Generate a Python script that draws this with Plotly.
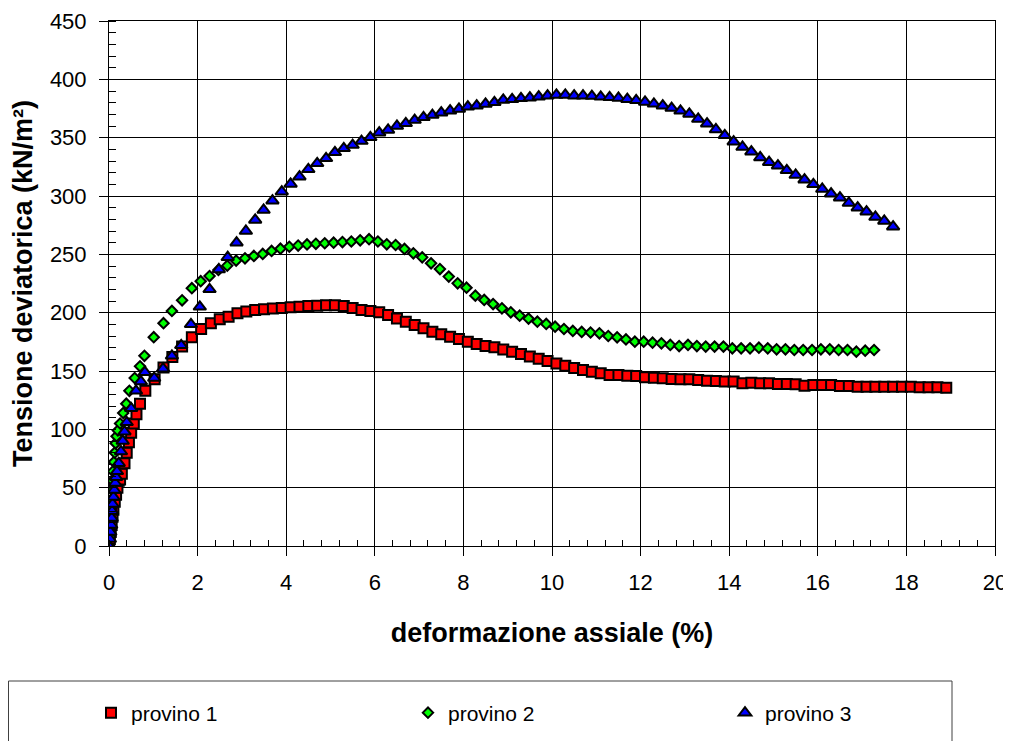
import plotly.graph_objects as go

# ---- data ----
p1_x = [0, 0.02, 0.04, 0.06, 0.08, 0.10, 0.13, 0.16, 0.19, 0.22, 0.25, 0.29, 0.35, 0.40, 0.45, 0.50,
        0.56, 0.62, 0.70, 0.82, 1.03, 1.23, 1.43, 1.65, 1.87, 2.08, 2.30, 2.50, 2.70, 2.90, 3.10, 3.30,
        3.50, 3.70,
        3.9, 4.1, 4.3, 4.5, 4.7, 4.9, 5.1, 5.3, 5.5, 5.7, 5.9, 6.1, 6.3, 6.5, 6.7, 6.9, 7.1, 7.3, 7.5,
        7.7, 7.9, 8.1, 8.3, 8.5, 8.7, 8.9, 9.1, 9.3, 9.5, 9.7, 9.9, 10.1, 10.3, 10.5, 10.7, 10.9,
        11.1, 11.3, 11.5, 11.7, 11.9, 12.1, 12.3, 12.5, 12.7, 12.9, 13.1, 13.3, 13.5, 13.7, 13.9,
        14.1, 14.3, 14.5, 14.7, 14.9, 15.1, 15.3, 15.5, 15.7, 15.9, 16.1, 16.3, 16.5, 16.7, 16.9,
        17.1, 17.3, 17.5, 17.7, 17.9, 18.1, 18.3, 18.5, 18.7, 18.9]
p1_y = [0, 6, 12, 18, 25, 31, 38, 44, 50, 56, 57, 62, 71, 80, 89, 97,
        105, 113, 122, 133, 143, 153, 162, 171, 179, 186, 191, 194.3, 196.6, 199.4, 200.9, 202.3,
        203, 203.5,
        204, 204.6, 205.1, 205.7, 206, 206.4, 206.4, 205.7, 204, 202.3, 201.4, 200.3, 198, 195.1,
        192.3, 189.4, 186.6, 183.7, 181.4, 179.4, 177.4, 175.1, 173.1, 171.4, 170.3, 168.5, 166.5,
        164.5, 162.5, 160.5, 158.5, 156.5, 154.5, 152.5, 150.8, 149.3,
        148, 146.6, 146.6, 146, 145.7, 144.6, 144.3, 143.7, 143.1, 142.9, 142.9, 142.3, 141.7, 141.4,
        140.9, 140.9, 139.4, 140, 139.4, 139.4, 138.9, 138.9, 138.6, 137.4, 138, 138, 138, 137.1,
        137.1, 136.6, 136.6, 136.6, 136.6, 136.6, 136.6, 136.6, 136, 136, 136, 135.7, 134.6]

p2_x = [0, 0.02, 0.03, 0.04, 0.05, 0.06, 0.07, 0.08, 0.09, 0.11, 0.13, 0.15, 0.17, 0.20, 0.25, 0.32,
        0.39, 0.46, 0.58, 0.70, 0.80, 1.01, 1.23, 1.42, 1.65, 1.87, 2.07, 2.27, 2.47, 2.67, 2.87,
        3.07, 3.27, 3.47, 3.67,
        3.87, 4.07, 4.27, 4.47, 4.67, 4.87, 5.07, 5.27, 5.47, 5.67, 5.87, 6.07, 6.27, 6.47, 6.67,
        6.87, 7.07, 7.27, 7.47, 7.67, 7.87, 8.07, 8.27, 8.47, 8.67, 8.87, 9.07, 9.27, 9.47, 9.67,
        9.87, 10.07, 10.27, 10.47, 10.67, 10.87,
        11.07, 11.27, 11.47, 11.67, 11.87, 12.07, 12.27, 12.47, 12.67, 12.87, 13.07, 13.27, 13.47,
        13.67, 13.87, 14.07, 14.27, 14.47, 14.67, 14.87, 15.07, 15.27, 15.47, 15.67, 15.87, 16.07,
        16.27, 16.47, 16.67, 16.87, 17.07, 17.27]
p2_y = [0, 8, 16, 24, 32, 40, 48, 56, 64, 72, 80, 88, 94, 99, 105, 114,
        122, 133, 144, 154, 163, 179, 191, 201.5, 210.6, 221, 227, 231.4, 236.6, 240.3, 244.6,
        246.6, 248.6, 250.3, 252.9,
        254.8, 256.5, 257.5, 258.5, 259, 259.5, 260, 260.5, 261, 262, 263, 261, 258.6, 258, 254.6,
        250.9, 247.4, 242.3, 237.4, 230.9, 225.2, 221.4, 214.6, 210.9, 207.4, 203.7, 200.3, 197.4,
        194.9, 192.3, 190.3, 188, 186, 184.3, 183.5, 183,
        182.3, 180, 178.9, 177.1, 175.1, 175.1, 174.3, 173.7, 172.3, 171.4, 172.3, 171.4, 170.9,
        170.9, 170.9, 169.4, 169.4, 169.4, 170, 169.4, 168.6, 168.6, 168, 168, 168, 168.6,
        168.6, 168, 168, 166.6, 167.4, 168]

p3_x = [0, 0.02, 0.03, 0.05, 0.06, 0.07, 0.08, 0.10, 0.12, 0.14, 0.16, 0.18, 0.22, 0.27, 0.31, 0.35,
        0.40, 0.50, 0.61, 0.72, 0.81, 1.02, 1.22, 1.42, 1.63, 1.85, 2.05, 2.27, 2.48, 2.68, 2.88,
        3.09, 3.30, 3.49, 3.69,
        3.9, 4.1, 4.3, 4.5, 4.7, 4.9, 5.1, 5.3, 5.5, 5.7, 5.9, 6.1, 6.3, 6.5, 6.7, 6.9, 7.1, 7.3,
        7.5, 7.7, 7.9, 8.1, 8.3, 8.5, 8.7, 8.9, 9.1, 9.3, 9.5, 9.7, 9.9, 10.1,
        10.3, 10.5, 10.7, 10.9, 11.1, 11.3, 11.5, 11.7, 11.9, 12.1, 12.3, 12.5, 12.7, 12.9, 13.1,
        13.3, 13.5, 13.7, 13.9, 14.1, 14.3, 14.5, 14.7, 14.9, 15.1, 15.3, 15.5, 15.7, 15.9, 16.1,
        16.3, 16.5, 16.7, 16.9, 17.1, 17.3, 17.5, 17.7]
p3_y = [0, 6, 12, 18, 24, 30, 36, 42, 48, 54, 59, 64, 71, 81, 90, 98,
        106, 118, 133, 141, 149, 144, 152, 163, 172, 190, 205, 220, 237, 247.5, 260,
        270, 279.5, 288, 296,
        303.7, 310.3, 316.6, 322.9, 328, 332.3, 337.4, 340.9, 343.7, 347.1, 350.3, 354.3, 356.6,
        360, 362.3, 365.1, 367.4, 369.4, 371.4, 373.1, 374.6, 376.6, 377.4, 378.9, 380.3, 382.3,
        382.9, 383.7, 384.3, 385.1, 386, 386.6,
        386.6, 386, 386, 385.7, 385, 384.6, 384, 383, 382, 380.6, 379, 377.4, 375.4, 373, 370.3,
        366, 362, 357, 352, 346.6, 342, 338, 333, 329, 326, 322, 318, 314, 310, 306,
        302, 298.6, 294, 290, 286.6, 282, 278.6, 273.7]

series_names = ["provino 1", "provino 2", "provino 3"]
x_tick_vals = [0, 2, 4, 6, 8, 10, 12, 14, 16, 18, 20]
y_tick_vals = [0, 50, 100, 150, 200, 250, 300, 350, 400, 450]

FONT = "Liberation Sans, Arial, sans-serif"

# The page body adds an 8px offset; layout numbers below are figure pixels.
W, H = 1011, 741
ML, MT, MR, MB = 101, 13, 24, 203
PW, PH = W - ML - MR, H - MT - MB

fig = go.Figure()
styles = [
    dict(symbol="square", size=10, color="#FF0000"),
    dict(symbol="diamond", size=8, color="#00FF00"),
    dict(symbol="triangle-up", size=11, color="#0000FF"),
]
for name, xs, ys, st in zip(series_names, [p1_x, p2_x, p3_x], [p1_y, p2_y, p3_y], styles):
    fig.add_trace(go.Scatter(
        x=xs, y=ys, mode="markers", name=name,
        marker=dict(symbol=st["symbol"], size=st["size"], color=st["color"],
                    line=dict(color="black", width=2)),
    ))

axis_common = dict(
    showline=True, linecolor="black", linewidth=1, mirror=True,
    showgrid=True, gridcolor="black", gridwidth=1, zeroline=False,
    ticks="outside", tickcolor="black", tickwidth=1,
    tickfont=dict(family=FONT, size=22, color="black"),
)

fig.update_xaxes(
    range=[0, 20], tickvals=x_tick_vals, ticklen=9, ticklabelstandoff=8,
    minor=dict(dtick=0.4, tick0=0, ticks="inside", ticklen=6, tickcolor="black", showgrid=False),
    title=dict(text="<b>deformazione assiale (%)</b>", font=dict(family=FONT, size=27, color="black"),
               standoff=28),
    **axis_common,
)
fig.update_yaxes(
    range=[0, 450], tickvals=y_tick_vals, ticklen=9, ticklabelstandoff=8,
    minor=dict(dtick=10, tick0=0, ticks="inside", ticklen=7, tickcolor="black", showgrid=False),
    title=dict(text="<b>Tensione deviatorica (kN/m²)</b>", font=dict(family=FONT, size=27, color="black"),
               standoff=15),
    **axis_common,
)

# legend frame (its lower edge runs past the bottom of the picture)
fig.add_shape(type="rect", xref="paper", yref="paper",
              x0=(0.5 - ML) / PW, x1=(944 - ML) / PW,
              y0=(MT + PH - 760) / PH, y1=(MT + PH - 673) / PH,
              line=dict(color="#404040", width=1), fillcolor="rgba(0,0,0,0)", layer="above")

fig.update_layout(
    width=W, height=H,
    margin=dict(l=ML, r=MR, t=MT, b=MB, autoexpand=False),
    paper_bgcolor="white", plot_bgcolor="white",
    font=dict(family=FONT, color="black"),
    showlegend=True,
    legend=dict(
        orientation="h", x=(83 - ML) / PW, xanchor="left",
        y=(MT + PH - 705) / PH, yanchor="middle",
        entrywidth=272, entrywidthmode="pixels",
        font=dict(family=FONT, size=21, color="black"),
        bgcolor="rgba(0,0,0,0)", borderwidth=0,
    ),
)

fig.write_html("out.html")
